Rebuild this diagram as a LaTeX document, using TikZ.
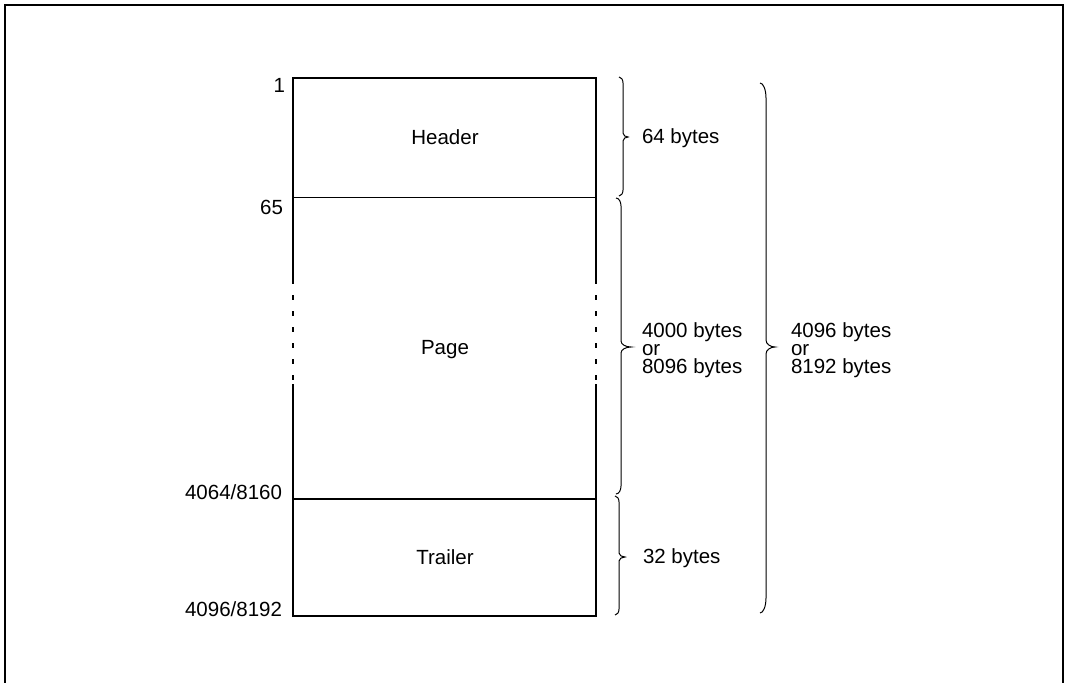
\documentclass[tikz,border=0pt]{standalone}
\usepackage{fontspec}
\setmainfont{Liberation Sans}
\newcommand{\mybrace}[8]{% X, y1, y2, ym, cw, ch, ta, th
  \draw[bracel] ({#1-#5},#2) .. controls ({#1-0.45*#5},#2) and (#1,{#2+0.45*#6}) .. (#1,{#2+#6})
    -- (#1,{#4-#8}) .. controls (#1,{#4-0.4*#8}) and ({#1+0.5*#7},#4) .. ({#1+#7},#4)
    .. controls ({#1+0.5*#7},#4) and (#1,{#4+0.4*#8}) .. (#1,{#4+#8})
    -- (#1,{#3-#6}) .. controls (#1,{#3-0.45*#6}) and ({#1-0.45*#5},#3) .. ({#1-#5},#3);}
\begin{document}
\begin{tikzpicture}[x=1pt,y=-1pt,
  every node/.style={inner sep=0pt,outer sep=0pt,font=\fontsize{20.5}{18.3}\selectfont},
  boxline/.style={line width=2pt,line cap=butt},
  thinline/.style={line width=1pt},
  dashside/.style={line width=2pt,dash pattern=on 5pt off 11pt,dash phase=1pt},
  bracel/.style={line width=1pt}]
\useasboundingbox (0,0) rectangle (1067,682);
\clip (0,0) rectangle (1067,682);
% outer frame
\draw[line width=2pt] (5,690) -- (5,5) -- (1063,5) -- (1063,690);
% box corners
\coordinate (tl) at (293,78);
\coordinate (tr) at (596,78);
\coordinate (hl) at (293,197);
\coordinate (hr) at (596,197);
\coordinate (dl1) at (293,280);
\coordinate (dr1) at (596,280);
\coordinate (dl2) at (293,384);
\coordinate (dr2) at (596,384);
\coordinate (sl) at (293,499);
\coordinate (sr) at (596,499);
\coordinate (bl) at (293,616);
\coordinate (br) at (596,616);
\draw[boxline] (dl1) -- (tl) -- (tr) -- (dr1);
\draw[dashside] (dl1) -- (dl2);
\draw[dashside] (dr1) -- (dr2);
\draw[boxline] (dl2) -- (bl) -- (br) -- (dr2);
\draw[thinline] (hl) -- (hr);
\draw[boxline] (sl) -- (sr);
% section labels
\node[anchor=base] (header) at (445,144) {Header};
\node[anchor=base] (page) at (445,354) {Page};
\node[anchor=base] (trailer) at (445,564) {Trailer};
% offsets
\node[anchor=base east] (o1) at (285,93) {1};
\node[anchor=base east] (o65) at (283,214) {65};
\node[anchor=base east] (o4064) at (282,499) {4064/8160};
\node[anchor=base east] (o4096) at (282,616) {4096/8192};
% braces
\mybrace{623}{77}{196}{137}{4}{6}{5}{4}
\mybrace{621}{198}{494}{347}{5}{8}{10}{6}
\mybrace{619}{496}{615}{557}{4}{6}{6}{4}
\mybrace{766}{83}{613}{347}{6}{15}{9}{7}
% size labels
\node[anchor=base west] (s64) at (642,143.5) {64 bytes};
\node[anchor=west,align=left] (spage) at (642,350) {4000 bytes\\or\\8096 bytes};
\node[anchor=base west] (s32) at (643,563.3) {32 bytes};
\node[anchor=west,align=left] (stotal) at (791,350) {4096 bytes\\or\\8192 bytes};
\end{tikzpicture}
\end{document}
